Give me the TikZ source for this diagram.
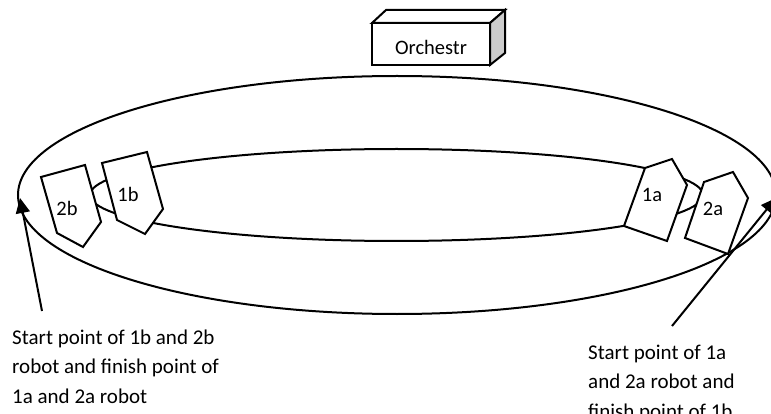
\documentclass[tikz,border=0pt]{standalone}
\usepackage{fontspec}
\setmainfont{Carlito}
\usetikzlibrary{arrows.meta}
\begin{document}
\begin{tikzpicture}[x=1pt,y=-1pt,
  line/.style={line width=2pt},
  robot/.style={line width=2pt, fill=white, line join=miter},
  lbl/.style={font=\fontsize{20.5}{29.5}\selectfont, inner sep=0pt},
  note/.style={font=\fontsize{21}{29.5}\selectfont, inner sep=0pt, align=left},
  pointer/.style={line width=2pt, -{Triangle[length=15pt,width=14pt]}}]
\useasboundingbox (0,0) rectangle (771,414);
\clip (0,0) rectangle (771,414);
% track
\draw[line] (397,195) ellipse [x radius=379, y radius=119];
\draw[line] (396.5,195) ellipse [x radius=306.5, y radius=46];
% orchestrator box
\draw[line, fill=white] (372,23) rectangle (490,65);
\draw[line, fill=white, line join=miter] (372,23) -- (386,10) -- (505,10) -- (490,23) -- cycle;
\draw[line, fill=gray!40, line join=miter] (490,23) -- (505,10) -- (505,53) -- (490,65) -- cycle;
\node[lbl, anchor=base] (orch) at (431,55) {Orchestr};
% robots
\draw[robot] (41,177) -- (85,165) -- (101,222) -- (83,247) -- (57,233) -- cycle;
\node[lbl, anchor=base] (r2b) at (67,215) {2b};
\draw[robot] (102,163) -- (147,152) -- (163,209) -- (145,234) -- (117,220) -- cycle;
\node[lbl, anchor=base] (r1b) at (128,202) {1b};
\draw[robot] (645,168) -- (672,159) -- (687,185) -- (667,241) -- (624,226) -- cycle;
\node[lbl, anchor=base] (r1a) at (652,202) {1a};
\draw[robot] (704,182) -- (733,172) -- (748,198) -- (728,254) -- (685,238) -- cycle;
\node[lbl, anchor=base] (r2a) at (713,215) {2a};
% texts (base = last line)
\node[note, anchor=base west] (ltext) at (12,403)
  {Start point of 1b and 2b\\robot and finish point of\\1a and 2a robot};
\node[note, anchor=base west] (rtext) at (588,418)
  {Start point of 1a\\and 2a robot and\\finish point of 1b};
% pointers
\coordinate (ltail) at (42,311);
\coordinate (lhead) at (20,198);
\coordinate (rtail) at (672,326);
\coordinate (rhead) at (776,198);
\draw[pointer] (ltail) -- (lhead);
\draw[pointer] (rtail) -- (rhead);
\end{tikzpicture}
\end{document}
